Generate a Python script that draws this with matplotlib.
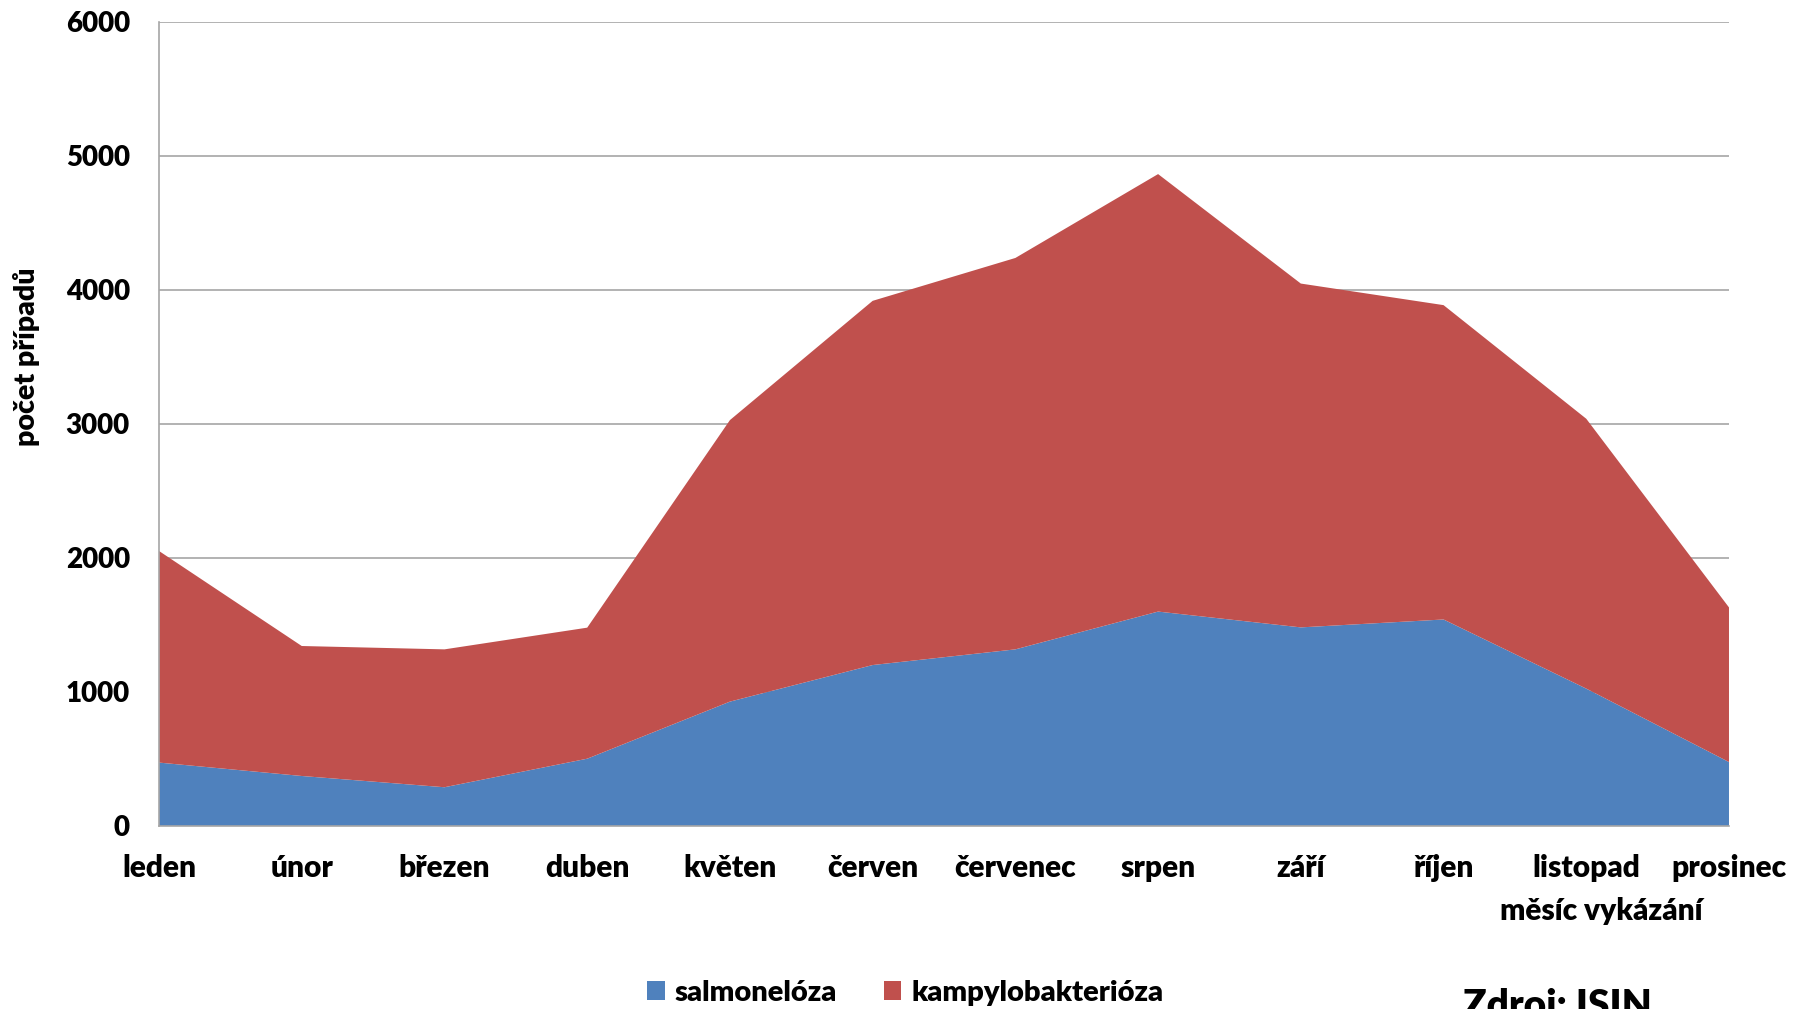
import numpy as np
import matplotlib.pyplot as plt

# data
months = ['leden', 'únor', 'březen', 'duben', 'květen', 'červen',
          'červenec', 'srpen', 'září', 'říjen', 'listopad', 'prosinec']
salmoneloza = [473, 373, 289, 502, 928, 1201, 1318, 1600, 1482, 1541, 1025, 477]
kampylobakterioza = [1579, 970, 1029, 978, 2101, 2718, 2921, 3265, 2566, 2346, 2014, 1154]
series_names = ['salmonelóza', 'kampylobakterióza']
y_ticks = [0, 1000, 2000, 3000, 4000, 5000, 6000]

colors = ['#4f81bd', '#c0504d']

plt.rcParams['font.family'] = ['Lato', 'DejaVu Sans']
plt.rcParams['font.weight'] = 'bold'

fig = plt.figure(figsize=(17.93, 10.09), dpi=100)
ax = fig.add_axes([0.0887, 0.1814, 0.8756, 0.7968])

x = np.arange(len(months))
polys = ax.stackplot(x, salmoneloza, kampylobakterioza, colors=colors,
                     labels=series_names, zorder=2)

ax.set_xlim(0, len(months) - 1)
ax.set_ylim(0, 6000)
ax.set_yticks(y_ticks)
ax.set_xticks(x)
ax.set_xticklabels(months)
ax.tick_params(axis='both', length=0)
ax.tick_params(axis='y', pad=21, labelsize=20)
ax.tick_params(axis='x', pad=20, labelsize=21.5)
for lab in ax.get_xticklabels() + ax.get_yticklabels():
    lab.set_fontweight('heavy')

ax.grid(axis='y', color='#a6a6a6', linewidth=1.2, zorder=1)
ax.set_axisbelow(True)
for s in ['top', 'right']:
    ax.spines[s].set_visible(False)
for s in ['left', 'bottom']:
    ax.spines[s].set_color('#a6a6a6')
    ax.spines[s].set_linewidth(1.2)
    ax.spines[s].set_zorder(3)

fig.text(0.015, 0.646, 'počet případů', rotation=90, ha='center', va='center',
         fontsize=20.5, fontweight='heavy')
fig.text(0.893, 0.097, 'měsíc vykázání', ha='center', va='center',
         fontsize=21.5, fontweight='heavy')

leg = fig.legend(handles=polys, labels=series_names, loc='center',
                 bbox_to_anchor=(0.505, 0.016), ncol=2, frameon=False,
                 fontsize=21, handlelength=0.6, handleheight=0.6,
                 columnspacing=1.6, handletextpad=0.35)
for t in leg.get_texts():
    t.set_fontweight('heavy')

fig.text(0.816, 0.021, 'Zdroj: ISIN', ha='left', va='top',
         fontsize=28, fontweight='heavy')

fig.savefig('out.png', dpi=100)
